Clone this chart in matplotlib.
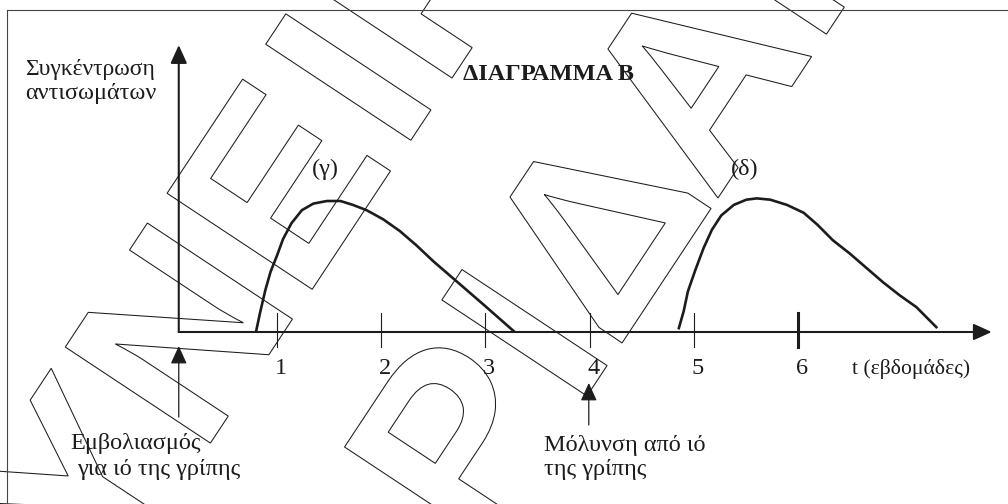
import numpy as np
import matplotlib
matplotlib.use('Agg')
import matplotlib.pyplot as plt
import matplotlib.transforms as mtransforms
from matplotlib.textpath import TextPath
from matplotlib.font_manager import FontProperties
from matplotlib.patches import PathPatch


# antibody curve (γ): after vaccination
weeks_g = [0.80, 0.84, 0.89, 0.94, 1.00, 1.06, 1.14, 1.24, 1.35, 1.48, 1.61, 1.73,
           1.86, 2.02, 2.18, 2.34, 2.50, 2.66, 2.98, 3.28]
conc_g = [0.00, 0.15, 0.32, 0.46, 0.58, 0.71, 0.83, 0.93, 0.98, 1.00, 1.00, 0.97,
          0.93, 0.86, 0.77, 0.66, 0.54, 0.43, 0.21, 0.00]

# antibody curve (δ): after infection
weeks_d = [4.85, 4.90, 4.94, 5.01, 5.09, 5.17, 5.26, 5.38, 5.50, 5.60, 5.73, 5.89,
           6.05, 6.18, 6.33, 6.49, 6.65, 6.81, 6.97, 7.13, 7.33]
conc_d = [0.02, 0.16, 0.31, 0.47, 0.64, 0.78, 0.89, 0.97, 1.01, 1.02, 1.01, 0.97,
          0.91, 0.82, 0.70, 0.60, 0.49, 0.38, 0.28, 0.19, 0.03]

week_ticks = [1, 2, 3, 4, 5, 6]
tick_labels = ['1', '2', '3', '4', '5', '6']

vacc_week = 0.06      # vaccination (origin)
infect_week = 3.99    # infection

W, H = 1008, 504
fig = plt.figure(figsize=(W / 100, H / 100), dpi=100)
ax = fig.add_axes([0, 0, 1, 1])
ax.set_xlim(-1.6534, 8.0082)
ax.set_ylim(-1.313, 2.5344)
ax.axis('off')

ink = '#1c1c1c'
serif = 'Liberation Serif'
fs = 17.5


def img(x, y):
  # image pixel -> axes fraction
  return x / W, 1 - y / H


# frame lines
ax.plot([6.7 / W, 1], [1 - 10 / H, 1 - 10 / H], transform=ax.transAxes, color='#444444', lw=0.8)
ax.plot([6.7 / W, 6.7 / W], [0, 1 - 10 / H], transform=ax.transAxes, color='#444444', lw=0.8)

# watermark: outlined letters, rotated
wm_font = FontProperties(family='Liberation Sans', weight='bold')
wm_letters = [('Υ', -359, -333), ('Ν', -179, -333), ('Ε', 2, -333), ('Ι', 128, -333), ('Ρ', 256, -333),
              ('Ρ', -111, -621), ('Ι', 12, -621), ('Δ', 138, -621), ('Α', 316, -621), ('Ν', 502, -621)]
ang = 56.5
ca, sa = np.cos(np.radians(ang)), np.sin(np.radians(ang))
cap = TextPath((0, 0), 'Ε', size=1, prop=wm_font).get_extents().height
sc = 174 / cap
for ch, u, v in wm_letters:
  tp = TextPath((0, 0), ch, size=1, prop=wm_font)
  ext = tp.get_extents()
  X = ca * u - sa * v
  Y = sa * u + ca * v
  tr = (mtransforms.Affine2D()
        .translate(-(ext.x0 + ext.width / 2), -(ext.y0 + ext.height / 2))
        .scale(sc).rotate_deg(ang).translate(X, H + Y).scale(1 / W, 1 / H)) + ax.transAxes
  ax.add_patch(PathPatch(tp, transform=tr, facecolor='none', edgecolor=ink, lw=0.75, zorder=1))

# axes with arrows
x_end = 7.852
y_end = 2.19
head = '-|>,head_length=1.1,head_width=0.5'
ax.annotate('', xy=(x_end, 0), xytext=(vacc_week, 0),
            arrowprops=dict(arrowstyle=head, mutation_scale=10, lw=1.5, color=ink, shrinkA=0, shrinkB=0), zorder=3)
ax.annotate('', xy=(vacc_week, y_end), xytext=(vacc_week, 0),
            arrowprops=dict(arrowstyle=head, mutation_scale=10, lw=1.5, color=ink, shrinkA=0, shrinkB=0), zorder=3)

# ticks
for t in week_ticks:
  ax.plot([t, t], [-0.115, 0.145], color=ink, lw=2.2 if t == 6 else 0.8, zorder=3)
for t, lab in zip(week_ticks, tick_labels):
  ax.text(t + 0.035, -0.32, lab, family=serif, fontsize=fs, ha='center', va='baseline', color=ink)

# curves
ax.plot(weeks_g, conc_g, color=ink, lw=1.9, zorder=4, solid_capstyle='butt', solid_joinstyle='round')
ax.plot(weeks_d, conc_d, color=ink, lw=1.9, zorder=4, solid_capstyle='butt', solid_joinstyle='round')

# event arrows
ax.annotate('', xy=(vacc_week, -0.107), xytext=(vacc_week, -0.649),
            arrowprops=dict(arrowstyle=head, mutation_scale=10, lw=0.9, color=ink, shrinkA=0, shrinkB=0))
ax.annotate('', xy=(infect_week, -0.389), xytext=(infect_week, -0.710),
            arrowprops=dict(arrowstyle=head, mutation_scale=10, lw=0.9, color=ink, shrinkA=0, shrinkB=0))

# texts
labels = [(25, 75, 'Συγκέντρωση', 'normal', 17),
          (25, 99, 'αντισωμάτων', 'normal', fs),
          (463, 79.5, 'ΔΙΑΓΡΑΜΜΑ Β', 'bold', fs),
          (312, 175, '(γ)', 'normal', fs),
          (731, 175, '(δ)', 'normal', fs),
          (852, 374, 't (εβδομάδες)', 'normal', 15.6),
          (70, 449, 'Εμβολιασμός', 'normal', fs),
          (77, 475, 'για ιό της γρίπης', 'normal', fs),
          (544, 450.5, 'Μόλυνση από ιό', 'normal', fs),
          (544, 475, 'της γρίπης', 'normal', fs)]
for x, y, s, wt, size in labels:
  ax.text(*img(x, y), s, transform=ax.transAxes, family=serif, fontsize=size, weight=wt,
          va='baseline', color=ink)

fig.savefig('out.png', dpi=100, facecolor='white')
